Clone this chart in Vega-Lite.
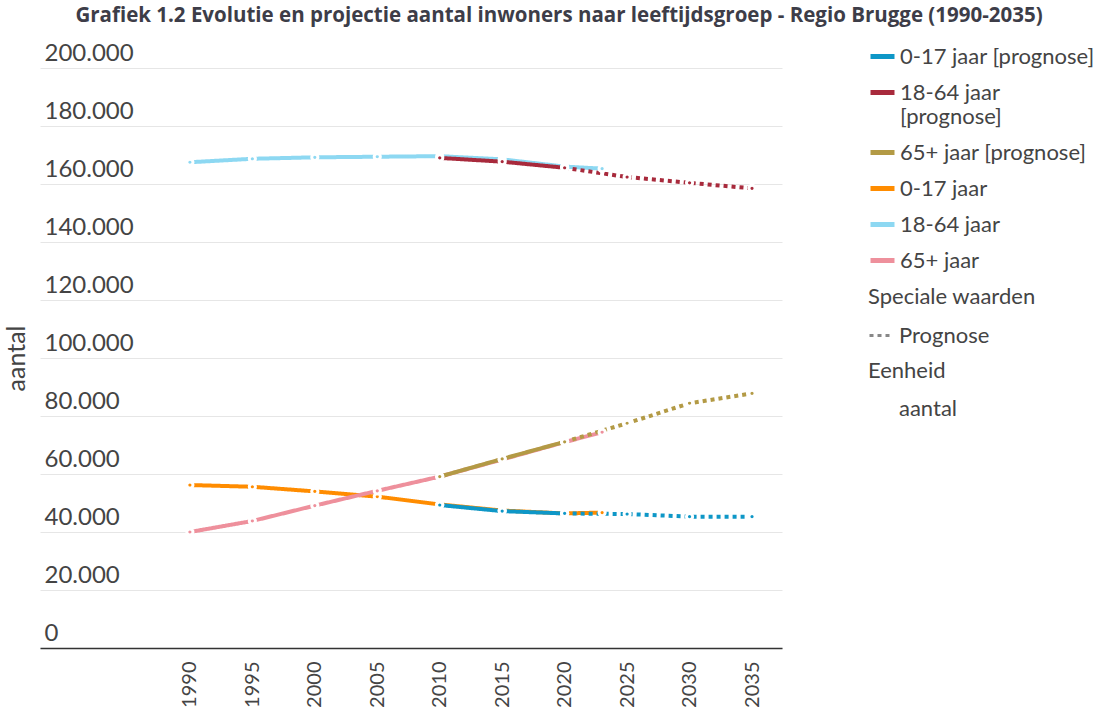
{
  "$schema": "https://vega.github.io/schema/vega-lite/v6.json",
  "width": 742,
  "height": 580,
  "autosize": {"type": "none"},
  "padding": {"left": 40, "top": 68, "right": 320, "bottom": 69},
  "title": {
    "text": "Grafiek 1.2 Evolutie en projectie aantal inwoners naar leeftijdsgroep - Regio Brugge (1990-2035)",
    "anchor": "middle",
    "frame": "group",
    "dx": 148,
    "offset": -1,
    "baseline": "alphabetic",
    "font": "Open Sans",
    "fontSize": 20.5,
    "fontWeight": "bold",
    "color": "#3d3d48"
  },
  "data": {
    "values": [
      {"jaar": 1990, "waarde": 56200, "reeks": "0-17 jaar", "soort": "Waarneming", "eenheid": "aantal"},
      {"jaar": 1995, "waarde": 55600, "reeks": "0-17 jaar", "soort": "Waarneming", "eenheid": "aantal"},
      {"jaar": 2000, "waarde": 54000, "reeks": "0-17 jaar", "soort": "Waarneming", "eenheid": "aantal"},
      {"jaar": 2005, "waarde": 52200, "reeks": "0-17 jaar", "soort": "Waarneming", "eenheid": "aantal"},
      {"jaar": 2010, "waarde": 49500, "reeks": "0-17 jaar", "soort": "Waarneming", "eenheid": "aantal"},
      {"jaar": 2015, "waarde": 47400, "reeks": "0-17 jaar", "soort": "Waarneming", "eenheid": "aantal"},
      {"jaar": 2020, "waarde": 46400, "reeks": "0-17 jaar", "soort": "Waarneming", "eenheid": "aantal"},
      {"jaar": 2023, "waarde": 46700, "reeks": "0-17 jaar", "soort": "Waarneming", "eenheid": "aantal"},
      {"jaar": 1990, "waarde": 167500, "reeks": "18-64 jaar", "soort": "Waarneming", "eenheid": "aantal"},
      {"jaar": 1995, "waarde": 168700, "reeks": "18-64 jaar", "soort": "Waarneming", "eenheid": "aantal"},
      {"jaar": 2000, "waarde": 169200, "reeks": "18-64 jaar", "soort": "Waarneming", "eenheid": "aantal"},
      {"jaar": 2005, "waarde": 169400, "reeks": "18-64 jaar", "soort": "Waarneming", "eenheid": "aantal"},
      {"jaar": 2010, "waarde": 169600, "reeks": "18-64 jaar", "soort": "Waarneming", "eenheid": "aantal"},
      {"jaar": 2015, "waarde": 168500, "reeks": "18-64 jaar", "soort": "Waarneming", "eenheid": "aantal"},
      {"jaar": 2020, "waarde": 166000, "reeks": "18-64 jaar", "soort": "Waarneming", "eenheid": "aantal"},
      {"jaar": 2023, "waarde": 165300, "reeks": "18-64 jaar", "soort": "Waarneming", "eenheid": "aantal"},
      {"jaar": 1990, "waarde": 40000, "reeks": "65+ jaar", "soort": "Waarneming", "eenheid": "aantal"},
      {"jaar": 1995, "waarde": 43800, "reeks": "65+ jaar", "soort": "Waarneming", "eenheid": "aantal"},
      {"jaar": 2000, "waarde": 49100, "reeks": "65+ jaar", "soort": "Waarneming", "eenheid": "aantal"},
      {"jaar": 2005, "waarde": 54200, "reeks": "65+ jaar", "soort": "Waarneming", "eenheid": "aantal"},
      {"jaar": 2010, "waarde": 59100, "reeks": "65+ jaar", "soort": "Waarneming", "eenheid": "aantal"},
      {"jaar": 2015, "waarde": 65000, "reeks": "65+ jaar", "soort": "Waarneming", "eenheid": "aantal"},
      {"jaar": 2020, "waarde": 71000, "reeks": "65+ jaar", "soort": "Waarneming", "eenheid": "aantal"},
      {"jaar": 2023, "waarde": 74400, "reeks": "65+ jaar", "soort": "Waarneming", "eenheid": "aantal"},
      {"jaar": 2010, "waarde": 49300, "reeks": "0-17 jaar [prognose]", "soort": "Waarneming", "eenheid": "aantal"},
      {"jaar": 2015, "waarde": 47200, "reeks": "0-17 jaar [prognose]", "soort": "Waarneming", "eenheid": "aantal"},
      {"jaar": 2020, "waarde": 46400, "reeks": "0-17 jaar [prognose]", "soort": "Waarneming", "eenheid": "aantal"},
      {"jaar": 2020, "waarde": 46400, "reeks": "0-17 jaar [prognose]", "soort": "Prognose", "eenheid": "aantal"},
      {"jaar": 2025, "waarde": 46200, "reeks": "0-17 jaar [prognose]", "soort": "Prognose", "eenheid": "aantal"},
      {"jaar": 2030, "waarde": 45300, "reeks": "0-17 jaar [prognose]", "soort": "Prognose", "eenheid": "aantal"},
      {"jaar": 2035, "waarde": 45300, "reeks": "0-17 jaar [prognose]", "soort": "Prognose", "eenheid": "aantal"},
      {"jaar": 2010, "waarde": 169000, "reeks": "18-64 jaar [prognose]", "soort": "Waarneming", "eenheid": "aantal"},
      {"jaar": 2015, "waarde": 167700, "reeks": "18-64 jaar [prognose]", "soort": "Waarneming", "eenheid": "aantal"},
      {"jaar": 2020, "waarde": 165600, "reeks": "18-64 jaar [prognose]", "soort": "Waarneming", "eenheid": "aantal"},
      {"jaar": 2020, "waarde": 165600, "reeks": "18-64 jaar [prognose]", "soort": "Prognose", "eenheid": "aantal"},
      {"jaar": 2025, "waarde": 162400, "reeks": "18-64 jaar [prognose]", "soort": "Prognose", "eenheid": "aantal"},
      {"jaar": 2030, "waarde": 160400, "reeks": "18-64 jaar [prognose]", "soort": "Prognose", "eenheid": "aantal"},
      {"jaar": 2035, "waarde": 158500, "reeks": "18-64 jaar [prognose]", "soort": "Prognose", "eenheid": "aantal"},
      {"jaar": 2010, "waarde": 59100, "reeks": "65+ jaar [prognose]", "soort": "Waarneming", "eenheid": "aantal"},
      {"jaar": 2015, "waarde": 65200, "reeks": "65+ jaar [prognose]", "soort": "Waarneming", "eenheid": "aantal"},
      {"jaar": 2020, "waarde": 71100, "reeks": "65+ jaar [prognose]", "soort": "Waarneming", "eenheid": "aantal"},
      {"jaar": 2020, "waarde": 71100, "reeks": "65+ jaar [prognose]", "soort": "Prognose", "eenheid": "aantal"},
      {"jaar": 2025, "waarde": 77500, "reeks": "65+ jaar [prognose]", "soort": "Prognose", "eenheid": "aantal"},
      {"jaar": 2030, "waarde": 84400, "reeks": "65+ jaar [prognose]", "soort": "Prognose", "eenheid": "aantal"},
      {"jaar": 2035, "waarde": 87800, "reeks": "65+ jaar [prognose]", "soort": "Prognose", "eenheid": "aantal"}
    ]
  },
  "encoding": {
    "x": {
      "field": "jaar",
      "type": "quantitative",
      "scale": {"domain": [1978, 2037.4], "nice": false, "zero": false},
      "axis": {
        "title": null,
        "values": [1990, 1995, 2000, 2005, 2010, 2015, 2020, 2025, 2030, 2035],
        "format": "d",
        "labelAngle": -90,
        "labelFont": "Lato",
        "labelFontSize": 20,
        "labelColor": "#444444",
        "labelPadding": 13,
        "labelFlush": false,
        "labelOverlap": false,
        "ticks": false,
        "grid": false,
        "domainColor": "#333333",
        "domainWidth": 1.5
      }
    },
    "y": {
      "field": "waarde",
      "type": "quantitative",
      "scale": {"domain": [0, 200000], "nice": false},
      "axis": {
        "title": "aantal",
        "titleFont": "Lato",
        "titleFontSize": 25,
        "titleFontWeight": "normal",
        "titleColor": "#444444",
        "titlePadding": 11,
        "values": [0, 20000, 40000, 60000, 80000, 100000, 120000, 140000, 160000, 180000, 200000],
        "format": ",d",
        "labelAlign": "left",
        "labelBaseline": "alphabetic",
        "labelPadding": -4,
        "labelOffset": -8,
        "labelFont": "Lato",
        "labelFontSize": 24,
        "labelColor": "#444444",
        "labelOverlap": false,
        "ticks": false,
        "domain": false,
        "grid": true,
        "gridColor": "#e6e6e6",
        "gridWidth": 1
      }
    }
  },
  "layer": [
    {
      "transform": [{"filter": "indexof(datum.reeks, 'prognose') < 0"}],
      "mark": {"type": "line", "strokeWidth": 4, "strokeCap": "butt"},
      "encoding": {
        "color": {"field": "reeks", "type": "nominal"},
        "strokeDash": {"field": "soort", "type": "nominal"}
      }
    },
    {
      "transform": [{"filter": "indexof(datum.reeks, 'prognose') >= 0"}],
      "mark": {"type": "line", "strokeWidth": 4, "strokeCap": "butt"},
      "encoding": {
        "color": {
          "field": "reeks",
          "type": "nominal",
          "scale": {
            "domain": ["0-17 jaar [prognose]", "18-64 jaar [prognose]", "65+ jaar [prognose]", "0-17 jaar", "18-64 jaar", "65+ jaar"],
            "range": ["#0e97c7", "#a82a3c", "#b39a45", "#ff8c00", "#8dd8f2", "#ee909c"]
          },
          "legend": {
            "title": null,
            "orient": "none",
            "legendX": 828,
            "legendY": -26,
            "padding": 0,
            "symbolType": "stroke",
            "symbolSize": 576,
            "symbolStrokeWidth": 5,
            "labelFont": "Lato",
            "labelFontSize": 22,
            "labelColor": "#444444",
            "labelOffset": 3,
            "labelLimit": 300,
            "rowPadding": 10,
            "labelExpr": "datum.label == '18-64 jaar [prognose]' ? ['18-64 jaar', '[prognose]'] : datum.label"
          }
        },
        "strokeDash": {
          "field": "soort",
          "type": "nominal",
          "scale": {"domain": ["Waarneming", "Prognose"], "range": [[1, 0], [4, 4]]},
          "legend": {
            "title": "Speciale waarden",
            "values": ["Prognose"],
            "orient": "none",
            "legendX": 828,
            "legendY": 219,
            "padding": 0,
            "titleFont": "Lato",
            "titleFontSize": 22,
            "titleFontWeight": "normal",
            "titleColor": "#444444",
            "titlePadding": 14,
            "symbolType": "stroke",
            "symbolSize": 484,
            "symbolStrokeWidth": 3,
            "symbolDash": [3, 2],
            "symbolStrokeColor": "#888888",
            "labelFont": "Lato",
            "labelFontSize": 22,
            "labelColor": "#444444",
            "labelOffset": 6
          }
        }
      }
    },
    {
      "mark": {"type": "point", "filled": true, "size": 38, "stroke": "white", "strokeWidth": 3, "opacity": 1},
      "encoding": {
        "fill": {
          "field": "reeks",
          "type": "nominal",
          "scale": {
            "domain": ["0-17 jaar [prognose]", "18-64 jaar [prognose]", "65+ jaar [prognose]", "0-17 jaar", "18-64 jaar", "65+ jaar"],
            "range": ["#0e97c7", "#a82a3c", "#b39a45", "#ff8c00", "#8dd8f2", "#ee909c"]
          },
          "legend": null
        },
        "shape": {
          "field": "eenheid",
          "type": "nominal",
          "scale": {"range": ["circle"]},
          "legend": {
            "title": "Eenheid",
            "orient": "none",
            "legendX": 828,
            "legendY": 293,
            "padding": 0,
            "titleFont": "Lato",
            "titleFontSize": 22,
            "titleFontWeight": "normal",
            "titleColor": "#444444",
            "titlePadding": 14,
            "symbolSize": 576,
            "symbolOpacity": 0,
            "symbolStrokeWidth": 0,
            "labelFont": "Lato",
            "labelFontSize": 22,
            "labelColor": "#444444",
            "labelOffset": 7
          }
        }
      }
    }
  ],
  "config": {
    "view": {"stroke": null},
    "font": "Lato",
    "locale": {"number": {"decimal": ",", "thousands": ".", "grouping": [3], "currency": ["€", ""]}}
  }
}
